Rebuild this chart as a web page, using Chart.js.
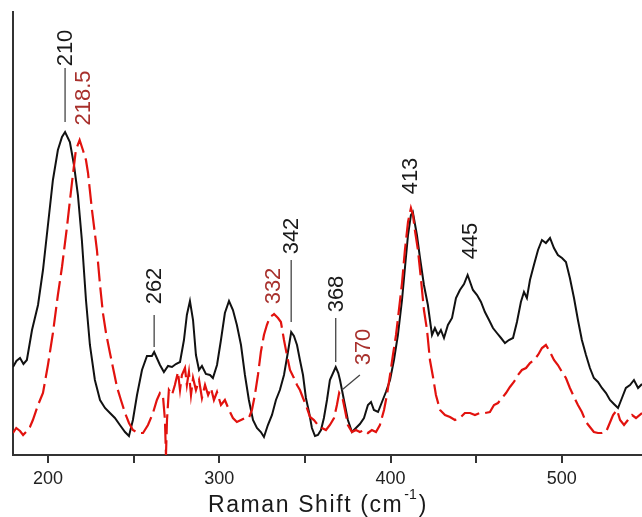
<!DOCTYPE html>
<html>
<head>
<meta charset="utf-8">
<script src="https://cdn.jsdelivr.net/npm/chart.js@4/dist/chart.umd.min.js"></script>
<style>
  html, body { margin: 0; padding: 0; background: #fff; }
  canvas { display: block; }
</style>
</head>
<body>
<canvas id="raman" width="642" height="517"></canvas>
<script>
// black spectrum (solid)
const blackShift = [179.6,181.6,183.7,185.7,187.7,190.7,194.2,197.1,200,202.9,205.8,208.2,210,212.8,215.2,217.5,219.8,222.2,224.5,227.4,230.4,233.3,236.2,239.1,242,245,247.3,249.6,252,254.9,257.8,260.7,262,265.4,267.7,270.1,272.4,274.7,277.1,279.4,281.1,282.9,284.7,286.4,288.2,289.9,292.2,294.6,296.3,298.7,301,303.3,305.7,308,310.3,312.7,315,317.3,319.7,322,324.3,326.1,328.4,330.8,333.1,335.4,337.8,340.1,342,343.6,345.4,347.1,348.9,350.6,352.4,354.1,355.9,357.6,359.4,361.1,362.9,364.6,368,369.5,370.5,372.8,375.1,377.5,379.8,382.1,384.5,386.8,388.6,390.3,392.7,395,397.3,399.7,402,404.3,406.7,408.4,410.2,411.9,413,415.4,417.2,419.5,421.8,424.2,425.9,427.7,429.4,431.2,433.5,435.9,438.2,440.5,442.9,445,448.1,450.5,452.8,455.1,457.5,459.8,462.1,464.5,466.8,469.1,471.5,473.8,476.1,477.9,479.6,481.4,483.7,486.1,488.4,490.7,493.1,495.4,497.7,500.1,502.4,504.7,507.1,509.4,511.7,514.1,516.4,518.7,521.1,523.4,525.8,528.1,530.4,532.8,535.1,537.4,539.8,542.1,544.5,546.8];
const blackIntensity = [88,94,97,91,95,125,150,185,230,275,305,318,323,313,290,260,215,155,110,75,55,47,42,37,30,23,19,35,60,85,99,99,103,90,83,89,88,91,93,115,140,154,135,100,85,89,81,80,77,90,115,142,154,145,130,110,80,55,35,27,23,18,30,40,55,65,80,103,123,119,110,95,80,57,43,27,19,20,25,37,55,75,88,82,75,55,35,23,27,31,37,50,53,45,43,53,63,75,95,120,155,187,220,240,243,220,197,170,150,120,127,120,125,117,130,137,157,165,171,180,165,160,153,143,135,127,122,117,112,115,117,133,153,163,157,175,190,205,215,212,217,207,200,197,193,177,157,135,115,100,87,77,73,67,62,55,51,47,57,67,70,75,67,71];

// red spectrum (dashed)
const redShift = [179.6,181.5,183.7,185.5,187.7,189.5,191.2,194.2,197.1,200,202.9,205.8,208.2,211.1,214,216.3,218.5,220.4,222.2,223.4,225.7,228.6,230.4,232.1,233.9,236.2,238.5,240.3,242.6,245,247.3,249.6,252.5,255.5,258.4,261.3,263.6,265.4,267.1,268.3,268.9,269.5,270.6,272.4,274.1,275.9,277.1,278.2,280,281.1,282.3,283.5,284.7,286.4,288.2,289.9,291.7,293.5,295.2,296.9,298.7,301,303.3,305.7,308,310.3,312.7,315,317.3,319.1,320.8,322.6,324.3,326.1,327.8,329.6,331.4,332,334.3,336,337.8,339.5,341.3,343.6,345.4,347.1,348.9,350.6,353,355.3,357.6,360,362.3,364.6,367,368.7,370,372.2,373.4,375.1,377.5,379.8,382.1,384.5,386.8,389.1,391.5,393.8,396.2,397.9,399.7,401.4,403.2,404.9,406.7,408.4,410.2,411.9,413.1,414.2,416,417.8,419.5,421.3,423,424.8,426.5,428.9,431.8,434.7,437.6,440.5,443.4,446.4,449.3,452.2,455.1,458,460.4,462.7,465.1,467.4,469.7,472,474.4,476.7,479.1,481.4,483.7,486.1,488.4,490.7,493.1,495.4,497.7,500.1,502.4,504.7,507.1,509.4,511.7,514.1,516.4,518.7,521.1,523.4,525.8,527.5,529.9,532.2,534,536.3,538.6,541,543.3,546.8];
const redIntensity = [22,27,24,20,24,28,35,50,62,90,122,160,188,228,272,305,315,305,295,282,245,205,170,142,122,102,83,68,55,42,32,25,22,22,30,42,55,62,60,35,0,35,65,60,70,83,65,80,87,70,83,60,77,65,75,57,70,60,67,55,63,50,55,45,37,33,35,37,37,45,60,80,103,120,130,138,140,141,137,133,115,100,85,77,70,65,57,50,38,35,30,27,25,30,37,50,62,55,45,30,23,25,23,25,22,25,23,30,45,60,80,100,120,145,172,205,233,247,240,225,205,175,145,125,95,78,60,45,40,38,35,37,42,42,40,42,42,43,50,52,57,62,68,73,80,85,87,92,95,100,107,110,103,95,90,83,77,67,58,50,43,33,28,23,22,22,23,30,40,45,35,30,35,40,37,42];

// x axis ticks (minor ticks carry no label)
const tickValues = [200, 250, 300, 350, 400, 450, 500];
const tickLabels = ['200', '', '300', '', '400', '', '500'];
const axisTitle = 'Raman Shift (cm';
const axisTitleSup = '-1';

const BLACK = '#111111';
const RED = '#e2120e';
const LABEL_RED = '#a8302c';

// rotated peak labels, y in intensity units
const peakLabels = [
  { text: '210', color: '#1a1a1a', x: 210, y: 407, line: [387, 333] },
  { text: '218.5', color: LABEL_RED, x: 220.5, y: 357 },
  { text: '262', color: '#1a1a1a', x: 262, y: 169, line: [140, 108] },
  { text: '332', color: LABEL_RED, x: 331.5, y: 169 },
  { text: '342', color: '#1a1a1a', x: 342, y: 219, line: [195, 133] },
  { text: '368', color: '#1a1a1a', x: 368, y: 161, line: [137, 93] },
  { text: '370', color: LABEL_RED, x: 384, y: 108, leader: [382.1, 80, 371.6, 65] },
  { text: '413', color: '#1a1a1a', x: 411.3, y: 279 },
  { text: '445', color: '#1a1a1a', x: 446.4, y: 214 }
];

const toPoints = (xs, ys) => xs.map((x, i) => ({ x: x, y: ys[i] }));

const peakLabelPlugin = {
  id: 'peakLabels',
  afterDatasetsDraw(chart) {
    const { ctx, scales } = chart;
    const xs = scales.x, ys = scales.y;
    ctx.save();
    peakLabels.forEach(p => {
      const px = xs.getPixelForValue(p.x);
      const py = ys.getPixelForValue(p.y);
      ctx.strokeStyle = '#444';
      ctx.lineWidth = 1.3;
      if (p.line) {
        ctx.beginPath();
        ctx.moveTo(px, ys.getPixelForValue(p.line[0]));
        ctx.lineTo(px, ys.getPixelForValue(p.line[1]));
        ctx.stroke();
      }
      if (p.leader) {
        ctx.beginPath();
        ctx.moveTo(xs.getPixelForValue(p.leader[0]), ys.getPixelForValue(p.leader[1]));
        ctx.lineTo(xs.getPixelForValue(p.leader[2]), ys.getPixelForValue(p.leader[3]));
        ctx.stroke();
      }
      ctx.save();
      ctx.translate(px, py);
      ctx.rotate(-Math.PI / 2);
      ctx.fillStyle = p.color;
      ctx.font = '22px "Liberation Sans", Arial, sans-serif';
      ctx.textAlign = 'center';
      ctx.textBaseline = 'middle';
      ctx.fillText(p.text, 0, 1);
      ctx.restore();
    });
    ctx.restore();
  }
};

const axisTitlePlugin = {
  id: 'axisTitle',
  afterDraw(chart) {
    const ctx = chart.ctx;
    ctx.save();
    ctx.fillStyle = '#1a1a1a';
    ctx.textBaseline = 'alphabetic';
    ctx.textAlign = 'left';
    const big = '23px "Liberation Sans", Arial, sans-serif';
    const small = '14px "Liberation Sans", Arial, sans-serif';
    ctx.letterSpacing = '1.6px';
    ctx.font = big;
    const w1 = ctx.measureText(axisTitle).width;
    const w3 = ctx.measureText(')').width;
    ctx.font = small;
    ctx.letterSpacing = '0px';
    const w2 = ctx.measureText(axisTitleSup).width;
    const total = w1 + w2 + 3 + w3;
    let x = 318 - total / 2;
    const base = 512;
    ctx.font = big;
    ctx.letterSpacing = '1.6px';
    ctx.fillText(axisTitle, x, base);
    x += w1 + 1;
    ctx.font = small;
    ctx.letterSpacing = '0px';
    ctx.fillText(axisTitleSup, x, base - 13);
    x += w2 + 2;
    ctx.font = big;
    ctx.fillText(')', x, base);
    ctx.restore();
  }
};

new Chart(document.getElementById('raman'), {
  type: 'line',
  data: {
    datasets: [
      {
        data: toPoints(redShift, redIntensity),
        borderColor: RED,
        borderWidth: 2.2,
        borderDash: [20, 6],
        pointRadius: 0,
        tension: 0,
        order: 0
      },
      {
        data: toPoints(blackShift, blackIntensity),
        borderColor: BLACK,
        borderWidth: 2,
        pointRadius: 0,
        tension: 0,
        order: 1
      }
    ]
  },
  options: {
    responsive: false,
    animation: false,
    devicePixelRatio: 1,
    layout: { padding: { top: 12, left: 0, right: 0, bottom: 0 } },
    plugins: {
      legend: { display: false },
      tooltip: { enabled: false }
    },
    scales: {
      x: {
        type: 'linear',
        min: 179.6,
        max: 546.8,
        afterFit: s => { s.height = 62; },
        afterBuildTicks: s => { s.ticks = tickValues.map(v => ({ value: v })); },
        grid: {
          drawOnChartArea: false,
          drawTicks: true,
          tickLength: 8,
          color: '#333',
          lineWidth: 2
        },
        border: { display: true, color: '#333', width: 2 },
        ticks: {
          autoSkip: false,
          maxRotation: 0,
          padding: 5,
          color: '#222',
          font: { family: '"Liberation Sans", Arial, sans-serif', size: 18 },
          callback: v => tickLabels[tickValues.indexOf(v)] || ''
        }
      },
      y: {
        min: 0,
        max: 443,
        afterFit: s => { s.width = 13; },
        grid: { display: false },
        border: { display: true, color: '#333', width: 2 },
        ticks: { display: false }
      }
    }
  },
  plugins: [peakLabelPlugin, axisTitlePlugin]
});
</script>
</body>
</html>
